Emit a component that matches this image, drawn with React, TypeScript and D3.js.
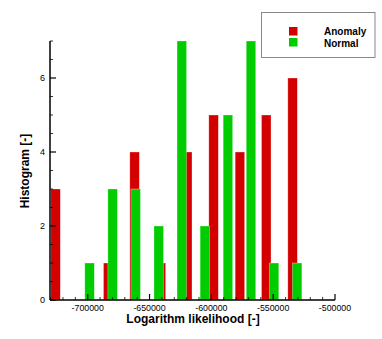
import React from 'react';
import * as d3 from 'd3';

// bin centres (log likelihood) and counts per class
const anomalyCenters = [-726000, -704700, -683400, -662100, -640800, -619500, -598200, -576900, -555600, -534300];
const anomalyCounts = [3, 0, 1, 4, 1, 4, 5, 4, 5, 6];
const normalCenters = [-698500, -679850, -661200, -642550, -623900, -605250, -586600, -567950, -549300, -530650];
const normalCounts = [1, 3, 3, 2, 7, 2, 5, 7, 1, 1];

const xTicks = [-700000, -650000, -600000, -550000, -500000];
const yTicks = [0, 2, 4, 6];
const seriesNames = ['Anomaly', 'Normal'];

const W = 382;
const H = 339;
const RED = '#d40000';
const GREEN = '#00cc00';
const FONT = 'Liberation Sans, Arial, Helvetica, sans-serif';
const BAR_W = 7700; // in data units

const App = () => {
  const x = d3.scaleLinear().domain([-730500, -500000]).range([50, 335]);
  const y = d3.scaleLinear().domain([0, 7]).range([300, 41]);

  const xMinor = d3.range(-730000, -499999, 10000).filter((v) => !xTicks.includes(v));
  const yMinor = d3.range(0.5, 7.01, 0.5).filter((v) => !yTicks.includes(v));

  const bars = (centers: number[], counts: number[], color: string, key: string) =>
    centers.map((c, i) =>
      counts[i] > 0 ? (
        <rect
          key={key + i}
          x={x(c - BAR_W / 2)}
          y={y(counts[i])}
          width={x(c + BAR_W / 2) - x(c - BAR_W / 2)}
          height={y(0) - y(counts[i])}
          fill={color}
          stroke="#ffffff"
          strokeOpacity={0.5}
          strokeWidth={0.6}
        />
      ) : null
    );

  return (
    <svg
      width={W}
      height={H}
      style={{ position: 'absolute', left: 0, top: 0, background: '#fff' }}
      fontFamily={FONT}
    >
      {bars(anomalyCenters, anomalyCounts, RED, 'a')}
      {bars(normalCenters, normalCounts, GREEN, 'n')}

      {/* y axis */}
      <line x1={50} x2={50} y1={y(0)} y2={y(7)} stroke="#000" strokeWidth={1.5} />
      {yTicks.map((t) => (
        <g key={'yt' + t}>
          <line x1={50} x2={56} y1={y(t)} y2={y(t)} stroke="#000" strokeWidth={1.2} />
          <text x={45} y={y(t)} dy="0.35em" textAnchor="end" fontSize={9}>
            {t}
          </text>
        </g>
      ))}
      {yMinor.map((t) => (
        <line key={'ym' + t} x1={50} x2={53} y1={y(t)} y2={y(t)} stroke="#000" strokeWidth={0.8} />
      ))}

      {/* x axis */}
      <line x1={x.range()[0]} x2={x.range()[1]} y1={300} y2={300} stroke="#000" strokeWidth={1.5} />
      {xTicks.map((t) => (
        <g key={'xt' + t}>
          <line x1={x(t)} x2={x(t)} y1={300} y2={294} stroke="#000" strokeWidth={1.2} />
          <text x={x(t)} y={310.5} textAnchor="middle" fontSize={8.8}>
            {t}
          </text>
        </g>
      ))}
      {xMinor.map((t) => (
        <line key={'xm' + t} x1={x(t)} x2={x(t)} y1={300} y2={297} stroke="#000" strokeWidth={0.8} />
      ))}

      {/* titles */}
      <text x={193} y={322.5} textAnchor="middle" fontSize={12} fontWeight="bold">
        Logarithm likelihood [-]
      </text>
      <text
        transform="translate(29,171) rotate(-90)"
        textAnchor="middle"
        fontSize={12}
        fontWeight="bold"
      >
        Histogram [-]
      </text>

      {/* legend */}
      <rect x={261.5} y={12.5} width={113.5} height={45} fill="#fff" stroke="#888" strokeWidth={1} />
      {seriesNames.map((name, i) => (
        <g key={name}>
          <rect x={289} y={27 + i * 11} width={8.5} height={8.5} fill={i === 0 ? RED : GREEN} />
          <text x={324} y={35 + i * 11.5} fontSize={10} fontWeight="bold">
            {name}
          </text>
        </g>
      ))}
    </svg>
  );
};

export default App;
